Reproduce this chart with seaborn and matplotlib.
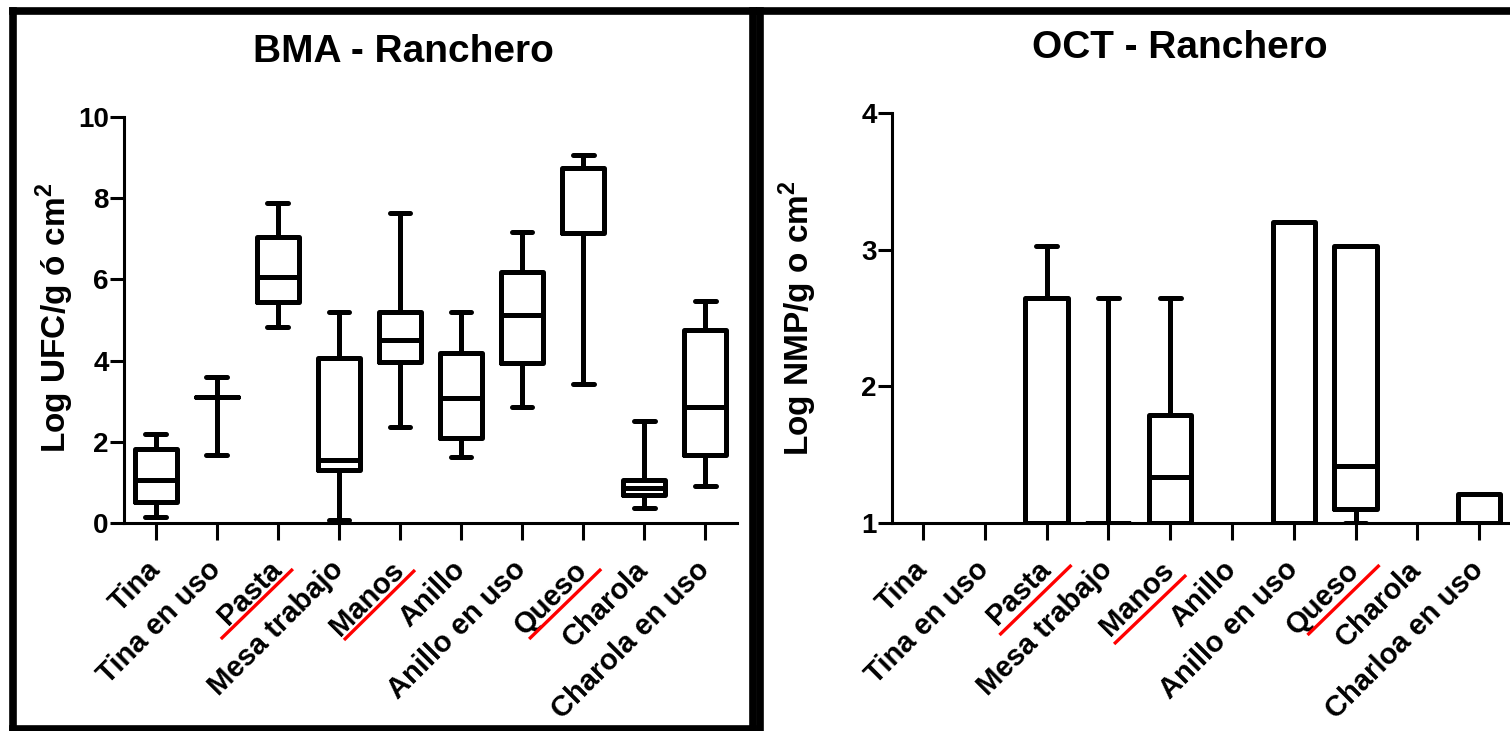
import numpy as np
import pandas as pd
import matplotlib
matplotlib.use("Agg")
import matplotlib.pyplot as plt
from matplotlib.lines import Line2D
from matplotlib.transforms import ScaledTranslation
import seaborn as sns

# ---------------------------------------------------------------- data
bma_sites = ["Tina", "Tina en uso", "Pasta", "Mesa trabajo", "Manos", "Anillo",
             "Anillo en uso", "Queso", "Charola", "Charola en uso"]
oct_sites = ["Tina", "Tina en uso", "Pasta", "Mesa trabajo", "Manos", "Anillo",
             "Anillo en uso", "Queso", "Charola", "Charloa en uso"]

# Five-number summaries (min, Q1, median, Q3, max) per sampling site
bma_min = [0.15, 1.68, 4.83, 0.07, 2.37, 1.63, 2.86, 3.42, 0.37, 0.91]
bma_q1 = [0.52, 3.10, 5.45, 1.30, 3.97, 2.09, 3.94, 7.14, 0.69, 1.67]
bma_med = [1.06, 3.10, 6.07, 1.55, 4.50, 3.08, 5.12, 8.74, 0.86, 2.86]
bma_q3 = [1.82, 3.10, 7.05, 4.07, 5.20, 4.19, 6.19, 8.74, 1.06, 4.75]
bma_max = [2.20, 3.60, 7.88, 5.20, 7.63, 5.20, 7.17, 9.06, 2.51, 5.47]

# NaN: no coliform count above the detection limit at that site
nd = np.nan
oct_min = [nd, nd, 1.00, 1.00, 1.00, nd, 1.00, 1.00, nd, 1.00]
oct_q1 = [nd, nd, 1.00, 1.00, 1.00, nd, 1.00, 1.10, nd, 1.00]
oct_med = [nd, nd, 2.65, 1.00, 1.34, nd, 1.00, 1.42, nd, 1.00]
oct_q3 = [nd, nd, 2.65, 1.00, 1.79, nd, 3.20, 3.03, nd, 1.21]
oct_max = [nd, nd, 3.03, 2.65, 2.65, nd, 3.20, 3.03, nd, 1.21]

bma_ticks = [0, 2, 4, 6, 8, 10]
oct_ticks = [1, 2, 3, 4]
underlined = ["Pasta", "Manos", "Queso"]


def long_table(sites, *cols):
    rows = []
    for i, site in enumerate(sites):
        for col in cols:
            rows.append({"sitio": site, "valor": col[i]})
    return pd.DataFrame(rows)


bma_df = long_table(bma_sites, bma_min, bma_q1, bma_med, bma_q3, bma_max)
oct_df = long_table(oct_sites, oct_min, oct_q1, oct_med, oct_q3, oct_max)

# ---------------------------------------------------------------- style
sns.set_style("white")
plt.rcParams["font.family"] = ["Liberation Sans", "DejaVu Sans"]
plt.rcParams["font.weight"] = "bold"
plt.rcParams["text.color"] = "black"
plt.rcParams["axes.labelcolor"] = "black"
plt.rcParams["xtick.color"] = "black"
plt.rcParams["ytick.color"] = "black"
plt.rcParams["mathtext.fontset"] = "custom"
plt.rcParams["mathtext.bf"] = "Liberation Sans:bold"
plt.rcParams["mathtext.rm"] = "Liberation Sans:bold"

W, H, DPI = 1510, 731, 100
fig = plt.figure(figsize=(W / DPI, H / DPI), dpi=DPI)
fig.patch.set_facecolor("white")


def px_rect(x0, x1, ytop, ybot):
    return [x0 / W, 1 - ybot / H, (x1 - x0) / W, (ybot - ytop) / H]


ax1 = fig.add_axes(px_rect(124, 737, 117, 523))
ax2 = fig.add_axes(px_rect(892, 1510, 113, 523))

LW = 3.6


def draw_panel(ax, df, order, ylim, yticks, clip):
    sns.boxplot(data=df, x="sitio", y="valor", order=order, whis=(0, 100),
                width=0.68, fill=False, color="black", linewidth=LW,
                showfliers=False, ax=ax)
    ax.set_ylim(*ylim)
    ax.set_yticks(yticks)
    ax.set_xlim(-0.52, len(order) - 0.48)
    for s in ["top", "right"]:
        ax.spines[s].set_visible(False)
    for s in ["left", "bottom"]:
        ax.spines[s].set_linewidth(2.2)
        ax.spines[s].set_color("black")
        ax.spines[s].set_zorder(5)
    ax.tick_params(axis="y", direction="out", length=10, width=2.2,
                   labelsize=20, pad=1, colors="black", left=True)
    ax.tick_params(axis="x", direction="out", length=12, width=2.2,
                   labelsize=21, pad=11.5, colors="black", bottom=True)
    ax.set_xlabel("")
    ax.set_ylabel("")
    ax.set_xticks(range(len(order)))
    ax.set_xticklabels(order, rotation=45, ha="right", va="top",
                       rotation_mode="anchor", fontweight="bold")
    for lab in ax.get_xticklabels():
        lab.set_transform(lab.get_transform() +
                          ScaledTranslation(-10 / DPI, 0, fig.dpi_scale_trans))
    for lab in ax.get_yticklabels():
        lab.set_fontweight("bold")
    if not clip:
        for child in ax.get_children():
            if isinstance(child, Line2D):
                child.set_clip_on(False)


draw_panel(ax1, bma_df, bma_sites, (0, 10), bma_ticks, clip=False)
draw_panel(ax2, oct_df, oct_sites, (1, 4), oct_ticks, clip=True)
ax2.set_xlim(-0.5, 9.5)

# titles and y labels
fig.text(403 / W, 1 - 52 / H, "BMA - Ranchero", ha="center", va="center",
         fontsize=28, fontweight="bold")
fig.text(1180 / W, 1 - 48 / H, "OCT - Ranchero", ha="center", va="center",
         fontsize=28, fontweight="bold")
fig.text(55 / W, 1 - 318 / H, r"Log UFC/g ó cm$^\mathbf{2}$", rotation=90,
         ha="center", va="center", fontsize=24, fontweight="bold")
fig.text(798 / W, 1 - 318 / H, r"Log NMP/g o cm$^\mathbf{2}$", rotation=90,
         ha="center", va="center", fontsize=24, fontweight="bold")

# red strokes under the highlighted site names (pixel offsets from tick base)
strokes = {
    ax1: {"Pasta": (-57, 15, 116, 46), "Manos": (-56, 15, 117, 47),
          "Queso": (-54, 18, 116, 46)},
    ax2: {"Pasta": (-47, 25, 112, 42), "Manos": (-56, 16, 121, 52),
          "Queso": (-48, 24, 112, 42)},
}
inv = fig.transFigure.inverted()
for ax, order in [(ax1, bma_sites), (ax2, oct_sites)]:
    y0 = ax.get_ylim()[0]
    for name in underlined:
        i = order.index(name)
        bx, by = ax.transData.transform((i, y0))
        dx0, dx1, dy0, dy1 = strokes[ax][name]
        p0 = inv.transform((bx + dx0, by - dy0))
        p1 = inv.transform((bx + dx1, by - dy1))
        fig.add_artist(Line2D([p0[0], p1[0]], [p0[1], p1[1]],
                              transform=fig.transFigure, color="#ff0000",
                              linewidth=2.4, solid_capstyle="butt"))

# panel frames
BW = 5.5


def fline(xs, ys):
    fig.add_artist(Line2D([x / W for x in xs], [1 - y / H for y in ys],
                          transform=fig.transFigure, color="black",
                          linewidth=BW, solid_capstyle="projecting"))


fline([13, 752.5], [11, 11])
fline([13, 13], [11, 729])
fline([752.5, 752.5], [11, 729])
fline([13, 752.5], [729, 729])
fline([759.5, 1512], [11, 11])
fline([759.5, 759.5], [11, 740])

fig.savefig("out.png", dpi=DPI, facecolor="white")
